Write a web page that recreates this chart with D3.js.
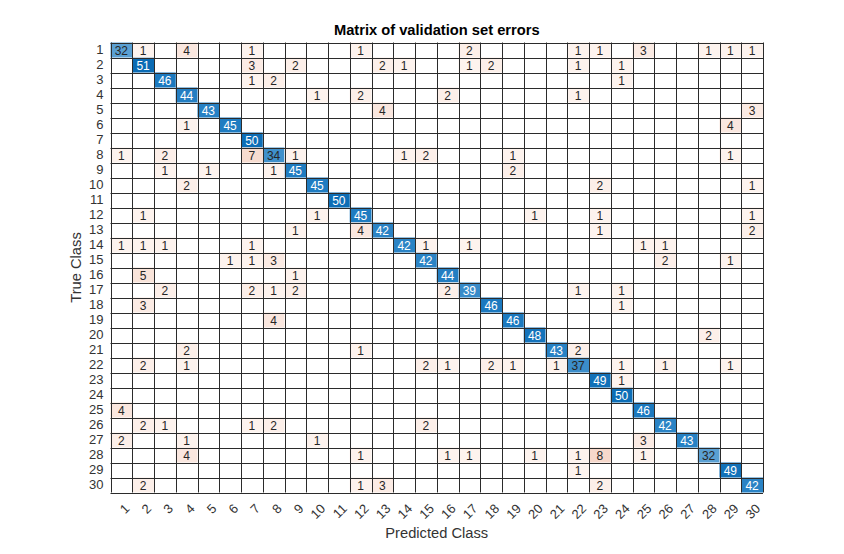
<!DOCTYPE html>
<html>
<head>
<meta charset="utf-8">
<script src="https://cdn.jsdelivr.net/npm/d3@7"></script>
<style>
  html, body { margin: 0; background: #fff; }
  text { font-family: "Liberation Sans", Arial, sans-serif; }
</style>
</head>
<body>
<div id="chart"></div>
<script>
const classes = d3.range(1, 31);

// correct predictions, class 1..30
const diagonal = [32, 51, 46, 44, 43, 45, 50, 34, 45, 45, 50, 45, 42, 42, 42,
  44, 39, 46, 46, 48, 43, 37, 49, 50, 46, 42, 43, 32, 49, 42];

// misclassified counts: [true class, predicted class, count]
const errors = [
  [1, 2, 1], [1, 4, 4], [1, 7, 1], [1, 12, 1], [1, 17, 2], [1, 22, 1], [1, 23, 1], [1, 25, 3], [1, 28, 1], [1, 29, 1], [1, 30, 1],
  [2, 7, 3], [2, 9, 2], [2, 13, 2], [2, 14, 1], [2, 17, 1], [2, 18, 2], [2, 22, 1], [2, 24, 1],
  [3, 7, 1], [3, 8, 2], [3, 24, 1],
  [4, 10, 1], [4, 12, 2], [4, 16, 2], [4, 22, 1],
  [5, 13, 4], [5, 30, 3],
  [6, 4, 1], [6, 29, 4],
  [8, 1, 1], [8, 3, 2], [8, 7, 7], [8, 9, 1], [8, 14, 1], [8, 15, 2], [8, 19, 1], [8, 29, 1],
  [9, 3, 1], [9, 5, 1], [9, 8, 1], [9, 19, 2],
  [10, 4, 2], [10, 23, 2], [10, 30, 1],
  [12, 2, 1], [12, 10, 1], [12, 20, 1], [12, 23, 1], [12, 30, 1],
  [13, 9, 1], [13, 12, 4], [13, 23, 1], [13, 30, 2],
  [14, 1, 1], [14, 2, 1], [14, 3, 1], [14, 7, 1], [14, 15, 1], [14, 17, 1], [14, 25, 1], [14, 26, 1],
  [15, 6, 1], [15, 7, 1], [15, 8, 3], [15, 26, 2], [15, 29, 1],
  [16, 2, 5], [16, 9, 1],
  [17, 3, 2], [17, 7, 2], [17, 8, 1], [17, 9, 2], [17, 16, 2], [17, 22, 1], [17, 24, 1],
  [18, 2, 3], [18, 24, 1],
  [19, 8, 4],
  [20, 28, 2],
  [21, 4, 2], [21, 12, 1], [21, 22, 2],
  [22, 2, 2], [22, 4, 1], [22, 15, 2], [22, 16, 1], [22, 18, 2], [22, 19, 1], [22, 21, 1], [22, 24, 1], [22, 26, 1], [22, 29, 1],
  [23, 24, 1],
  [25, 1, 4],
  [26, 2, 2], [26, 3, 1], [26, 7, 1], [26, 8, 2], [26, 15, 2],
  [27, 1, 2], [27, 4, 1], [27, 10, 1], [27, 25, 3],
  [28, 4, 4], [28, 12, 1], [28, 16, 1], [28, 17, 1], [28, 20, 1], [28, 22, 1], [28, 23, 8], [28, 25, 1],
  [29, 22, 1],
  [30, 2, 2], [30, 12, 1], [30, 13, 3], [30, 23, 2]
];

const width = 844, height = 554;
const margin = { top: 42.5, right: 81, bottom: 61.5, left: 110.5 };

const svg = d3.select("#chart").append("svg")
  .attr("width", width)
  .attr("height", height)
  .attr("viewBox", [0, 0, width, height])
  .style("display", "block");

const x = d3.scaleBand().domain(classes).range([margin.left, width - margin.right]);
const y = d3.scaleBand().domain(classes).range([margin.top, height - margin.bottom]);

const blue = d3.scaleLinear()
  .domain([32, 34, 39, 42, 46, 51])
  .range(["#5aa0d3", "#3f90cb", "#388bc9", "#2a83c5", "#1b79bf", "#0a6bb4"]);
const red = d3.scaleLinear().domain([0, 1, 8]).range(["#ffffff", "#fdf3ee", "#f6d8cb"]);

// cells
const cells = [
  ...diagonal.map((v, i) => ({ t: i + 1, p: i + 1, v, diag: true })),
  ...errors.map(([t, p, v]) => ({ t, p, v, diag: false }))
];

svg.append("g").selectAll("rect")
  .data(cells)
  .join("rect")
  .attr("x", d => x(d.p))
  .attr("y", d => y(d.t))
  .attr("width", x.bandwidth())
  .attr("height", y.bandwidth())
  .attr("fill", d => d.diag ? blue(d.v) : red(d.v));

// grid lines
const grid = svg.append("g").attr("stroke", "#2b2b2b").attr("stroke-width", 1);
grid.selectAll("line.v")
  .data(d3.range(31))
  .join("line")
  .attr("class", "v")
  .attr("x1", i => Math.round(margin.left + i * x.step()) + 0.5)
  .attr("x2", i => Math.round(margin.left + i * x.step()) + 0.5)
  .attr("y1", margin.top)
  .attr("y2", height - margin.bottom);
grid.selectAll("line.h")
  .data(d3.range(31))
  .join("line")
  .attr("class", "h")
  .attr("x1", margin.left)
  .attr("x2", width - margin.right)
  .attr("y1", i => Math.round(margin.top + i * y.step()) + 0.5)
  .attr("y2", i => Math.round(margin.top + i * y.step()) + 0.5);

// cell labels
svg.append("g").selectAll("text")
  .data(cells)
  .join("text")
  .attr("x", d => x(d.p) + x.bandwidth() / 2)
  .attr("y", d => y(d.t) + y.bandwidth() / 2)
  .attr("dy", "0.38em")
  .attr("text-anchor", "middle")
  .attr("font-size", 12)
  .attr("fill", d => d.diag && d.v > 37 ? "#fff" : "#262626")
  .text(d => d.v);

// axes
const yAxis = svg.append("g")
  .attr("transform", `translate(${margin.left},0)`)
  .call(d3.axisLeft(y).tickSize(0).tickPadding(7));
yAxis.select(".domain").remove();
yAxis.selectAll("text").attr("font-size", 13).attr("fill", "#333");

const xAxis = svg.append("g")
  .attr("transform", `translate(0,${height - margin.bottom})`)
  .call(d3.axisBottom(x).tickSize(0).tickPadding(0));
xAxis.select(".domain").remove();
xAxis.selectAll("text")
  .attr("font-size", 13)
  .attr("fill", "#333")
  .attr("text-anchor", "end")
  .attr("dy", null)
  .attr("y", 0)
  .attr("transform", "translate(9,17) rotate(-45)");

svg.append("text")
  .attr("x", (margin.left + width - margin.right) / 2)
  .attr("y", 35)
  .attr("text-anchor", "middle")
  .attr("font-size", 14.7)
  .attr("font-weight", "bold")
  .attr("fill", "#000")
  .text("Matrix of validation set errors");

svg.append("text")
  .attr("x", (margin.left + width - margin.right) / 2)
  .attr("y", 538)
  .attr("text-anchor", "middle")
  .attr("font-size", 14.7)
  .attr("fill", "#333")
  .text("Predicted Class");

svg.append("text")
  .attr("transform", `translate(81,${(margin.top + height - margin.bottom) / 2}) rotate(-90)`)
  .attr("text-anchor", "middle")
  .attr("font-size", 14.7)
  .attr("fill", "#333")
  .text("True Class");
</script>
</body>
</html>
